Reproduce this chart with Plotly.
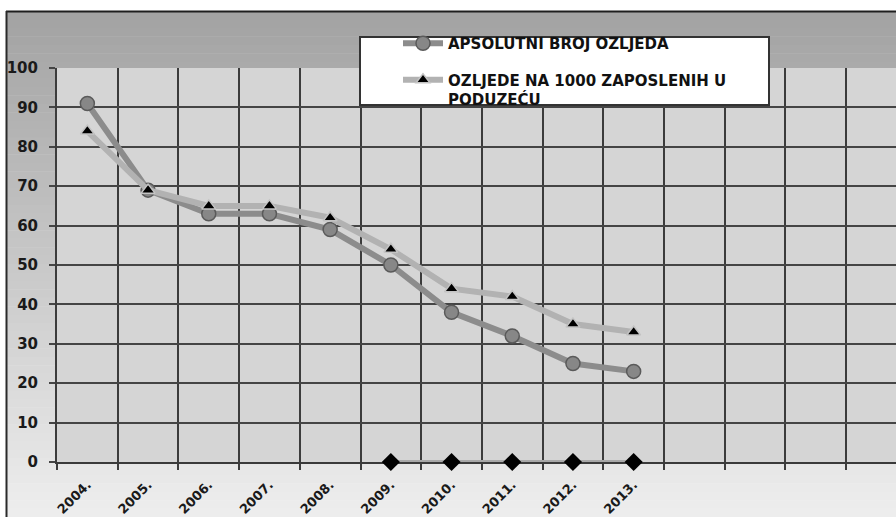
import plotly.graph_objects as go

years = ["2004.", "2005.", "2006.", "2007.", "2008.", "2009.", "2010.", "2011.", "2012.", "2013."]
apsolutni = [91, 69, 63, 63, 59, 50, 38, 32, 25, 23]
na_1000 = [84, 69, 65, 65, 62, 54, 44, 42, 35, 33]
treca_years = ["2009.", "2010.", "2011.", "2012.", "2013."]
treca = [0, 0, 0, 0, 0]

name1 = "APSOLUTNI BROJ OZLJEDA"
name2 = "OZLJEDE NA 1000 ZAPOSLENIH U<br>PODUZEĆU"

W, H = 896, 517
L, T, B, R = 57, 68, 55, 0
pw, ph = W - L - R, H - T - B
cat_w = 60.7
FONT = "DejaVu Sans, Verdana, sans-serif"

def px_x(p):
    return (p - L) / pw

def px_y(p):
    return (H - B - p) / ph

idx = list(range(len(years)))
idx3 = [years.index(y) for y in treca_years]

fig = go.Figure()
fig.add_trace(go.Scatter(
    x=idx, y=apsolutni, name=name1, mode="lines+markers", legendgroup="a",
    line=dict(color="#8c8c8c", width=6),
    marker=dict(symbol="circle", size=14, color="#878787", line=dict(color="#5a5a5a", width=1.5)),
))
fig.add_trace(go.Scatter(
    x=idx, y=na_1000, name=name2, mode="lines+markers", legendgroup="b",
    line=dict(color="#b2b2b2", width=6),
    marker=dict(symbol="triangle-up", size=12, color="#000000", line=dict(color="#c4c4c4", width=1.5)),
))
fig.add_trace(go.Scatter(
    x=idx3, y=treca, mode="lines+markers", showlegend=False, cliponaxis=False,
    line=dict(color="#a8a8a8", width=4),
    marker=dict(symbol="diamond", size=14, color="#000000"),
))

shapes = []
n = 60
top_px, bot_px = 11, H
c0, c1 = 0xa2, 0xee
for i in range(n):
    y0p = top_px + (bot_px - top_px) * i / n
    y1p = top_px + (bot_px - top_px) * (i + 1) / n
    c = int(round(c0 + (c1 - c0) * (i + 0.5) / n))
    col = "#%02x%02x%02x" % (c, c, c)
    shapes.append(dict(type="rect", xref="paper", yref="paper", layer="below",
                       x0=px_x(6), x1=px_x(W + 2), y0=px_y(y1p + 0.5), y1=px_y(y0p),
                       fillcolor=col, line=dict(width=0)))
shapes.append(dict(type="rect", xref="paper", yref="paper", layer="below",
                   x0=0, x1=1, y0=0, y1=1, fillcolor="#d5d5d5", line=dict(width=0)))
shapes.append(dict(type="line", xref="paper", yref="paper", layer="above",
                   x0=px_x(6), x1=px_x(W + 2), y0=px_y(11.5), y1=px_y(11.5),
                   line=dict(color="#1e1e1e", width=2)))
shapes.append(dict(type="line", xref="paper", yref="paper", layer="above",
                   x0=px_x(6.5), x1=px_x(6.5), y0=px_y(11), y1=px_y(H + 2),
                   line=dict(color="#2a2a2a", width=2)))
shapes.append(dict(type="rect", xref="paper", yref="paper", layer="above",
                   x0=px_x(360), x1=px_x(769), y0=px_y(105), y1=px_y(37),
                   fillcolor="#ffffff", line=dict(color="#333333", width=2)))

fig.update_layout(
    width=W, height=H,
    margin=dict(l=L, r=R, t=T, b=B),
    paper_bgcolor="#ffffff",
    plot_bgcolor="rgba(0,0,0,0)",
    shapes=shapes,
    font=dict(family=FONT, color="#1a1a1a"),
    legend=dict(
        x=px_x(398), y=px_y(27), xanchor="left", yanchor="top",
        bgcolor="rgba(0,0,0,0)", borderwidth=0,
        font=dict(family=FONT, size=15, weight="bold", color="#111111"),
        traceorder="grouped", tracegroupgap=14, valign="top",
        itemwidth=40,
    ),
    xaxis=dict(
        range=[-0.5, -0.5 + pw / cat_w],
        tickmode="array", tickvals=idx, ticktext=years,
        tickangle=-45, showgrid=False, ticks="", zeroline=False,
        tickfont=dict(family=FONT, size=13, weight="bold", color="#1a1a1a"),
        ticklabelstandoff=8, layer="below traces",
        showline=True, linecolor="#3a3a3a", linewidth=2,
        minor=dict(tickmode="linear", tick0=-0.5, dtick=1, showgrid=True,
                   gridcolor="#3c3c3c", gridwidth=2, ticks="outside",
                   ticklen=6, tickcolor="#3c3c3c", tickwidth=2),
    ),
    yaxis=dict(
        range=[0, 100], tick0=0, dtick=10,
        showgrid=True, gridcolor="#454545", gridwidth=2,
        zeroline=False, ticks="outside", ticklen=6, tickcolor="#454545", tickwidth=2,
        showline=True, linecolor="#3c3c3c", linewidth=2, layer="below traces",
        tickfont=dict(family=FONT, size=15, weight="bold", color="#1a1a1a"),
        ticklabelstandoff=8,
    ),
)

fig.write_html("out.html", config={"displayModeBar": False},
               post_script="document.body.style.margin='0';")
